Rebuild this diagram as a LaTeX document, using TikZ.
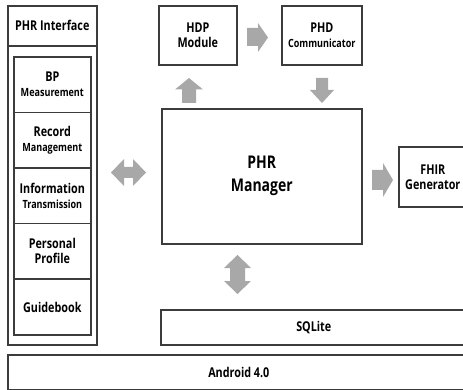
\documentclass[tikz,border=0pt]{standalone}
\usepackage{fontspec}
\setmainfont{Open Sans}[FakeStretch=0.8]
\definecolor{edge}{HTML}{3C3C3C}
\definecolor{arr}{HTML}{A8A8A8}
\tikzset{
  box/.style={draw=edge, line width=1.6pt, fill=white, inner sep=0pt, anchor=north west, align=center, font=\fontsize{13.5}{15}\selectfont\bfseries},
  blk/.style={fill=arr, draw=none},
}
\newcommand{\st}[1]{{\fontsize{11.3}{15}\selectfont #1}}
\begin{document}
\begin{tikzpicture}[x=1pt,y=-1pt]
\useasboundingbox (0,0) rectangle (463,390);
% PHR Interface
\node[box, minimum width=89pt, minimum height=339pt] (phr) at (7,5) {};
\node[box, minimum width=89pt, minimum height=40pt] (phrhead) at (7,5) {PHR Interface};
\node[box, minimum width=77pt, minimum height=55.6pt] (bp) at (13,56) {BP\\\st{Measurement}};
\node[box, minimum width=77pt, minimum height=55.6pt] (rec) at (13,111.6) {Record\\\st{Management}};
\node[box, minimum width=77pt, minimum height=55.6pt] (info) at (13,167.2) {Information\\\st{Transmission}};
\node[box, minimum width=77pt, minimum height=55.6pt] (pers) at (13,222.8) {Personal\\Profile};
\node[box, minimum width=77pt, minimum height=55.6pt] (guide) at (13,278.4) {Guidebook};
% top modules
\node[box, minimum width=78pt, minimum height=59pt] (hdp) at (158,5) {HDP\\Module};
\node[box, minimum width=80pt, minimum height=59pt] (phd) at (281,5) {PHD\\\st{Communicator}};
% manager
\node[box, minimum width=200pt, minimum height=135pt, font=\fontsize{17.5}{23}\selectfont\bfseries] (mgr) at (161,108) {PHR\\Manager};
% FHIR
\node[box, minimum width=68pt, minimum height=60pt] (fhir) at (398,146) {FHIR\\Generator};
% SQLite and Android
\node[box, minimum width=306pt, minimum height=35pt] (sql) at (160,309) {SQLite};
\node[box, minimum width=462pt, minimum height=35pt] (andr) at (7,354) {Android 4.0};
% block arrows
\fill[blk] (247,28) -- (258,28) -- (258,23) -- (268,37.5) -- (258,52) -- (258,46) -- (247,46) -- cycle;
\fill[blk] (189,78) -- (203,89.5) -- (196,89.5) -- (196,103) -- (182,103) -- (182,89.5) -- (175,89.5) -- cycle;
\fill[blk] (316,78) -- (328,78) -- (328,90) -- (334,90) -- (322,103) -- (310,90) -- (316,90) -- cycle;
\fill[blk] (372,170) -- (383,170) -- (383,163) -- (393,180) -- (383,197) -- (383,190) -- (372,190) -- cycle;
\fill[blk] (111,172.5) -- (124,159) -- (124,167) -- (133,167) -- (133,159) -- (146,172.5) -- (133,186) -- (133,178) -- (124,178) -- (124,186) -- cycle;
\fill[blk] (237.5,255) -- (251,268) -- (245,268) -- (245,281) -- (251,281) -- (237.5,294) -- (224,281) -- (230,281) -- (230,268) -- (224,268) -- cycle;
\end{tikzpicture}
\end{document}
